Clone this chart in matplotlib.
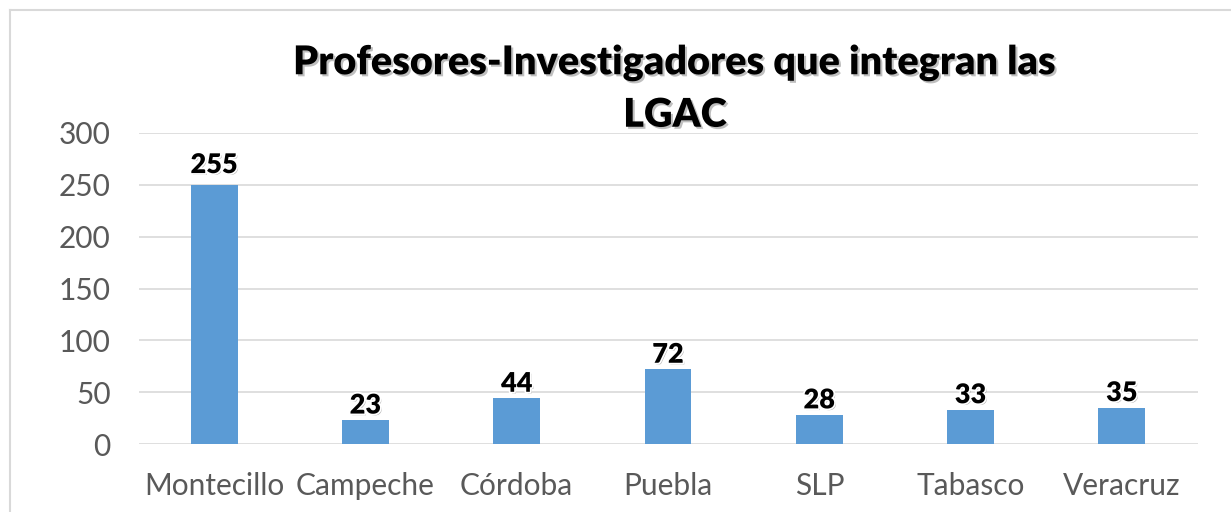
import matplotlib
matplotlib.use("Agg")
import matplotlib.pyplot as plt
import matplotlib.patheffects as pe
from matplotlib.lines import Line2D
import numpy as np

categories = ["Montecillo", "Campeche", "Córdoba", "Puebla", "SLP", "Tabasco", "Veracruz"]
values = [250, 23, 44, 72, 28, 33, 35]
label_texts = ["255", "23", "44", "72", "28", "33", "35"]
yticks = [0, 50, 100, 150, 200, 250, 300]
title = "Profesores-Investigadores que integran las\nLGAC"

plt.rcParams["font.family"] = ["Lato", "DejaVu Sans"]

W, H = 1231, 512
fig = plt.figure(figsize=(W / 100, H / 100), dpi=100)
ax = fig.add_axes([138.5 / W, 1 - 444 / H, (1197.5 - 138.5) / W, (444 - 133) / H])

x = np.arange(len(categories))
ax.bar(x, values, width=0.31, color="#5B9BD5", zorder=3)

# labels sit above the value they show
for xi, t in zip(x, label_texts):
    ax.text(xi, float(t) + 2.5, t, ha="center", va="bottom", fontsize=19.5, fontweight="heavy",
            color="black", zorder=4,
            path_effects=[pe.withSimplePatchShadow(offset=(1.2, -1.2), alpha=0.3),
                          pe.withStroke(linewidth=2.5, foreground="white")])

ax.set_xlim(-0.5, len(categories) - 0.5)
ax.set_ylim(0, 300)
ax.set_yticks(yticks)
ax.set_xticks(x)
ax.set_xticklabels(categories)
ax.tick_params(axis="both", length=0, labelsize=21.5, labelcolor="#595959")
ax.tick_params(axis="x", pad=20)
ax.tick_params(axis="y", pad=20)
ax.yaxis.grid(True, color="#D9D9D9", linewidth=1.2, zorder=0)
for s in ax.spines.values():
    s.set_visible(False)

fig.text(675 / W, 1 - 89 / H, title, ha="center", va="center", fontsize=28.5,
         fontweight="heavy", color="black", linespacing=1.5,
         path_effects=[pe.withSimplePatchShadow(offset=(1.5, -1.5), alpha=0.25)])

# chart area border (top and left visible)
fig.add_artist(Line2D([10 / W, 10 / W], [1 - 10 / H, 0], color="#D9D9D9", linewidth=1.5,
                      transform=fig.transFigure))
fig.add_artist(Line2D([10 / W, 1], [1 - 10 / H, 1 - 10 / H], color="#D9D9D9", linewidth=1.5,
                      transform=fig.transFigure))

fig.savefig("out.png", dpi=100)
